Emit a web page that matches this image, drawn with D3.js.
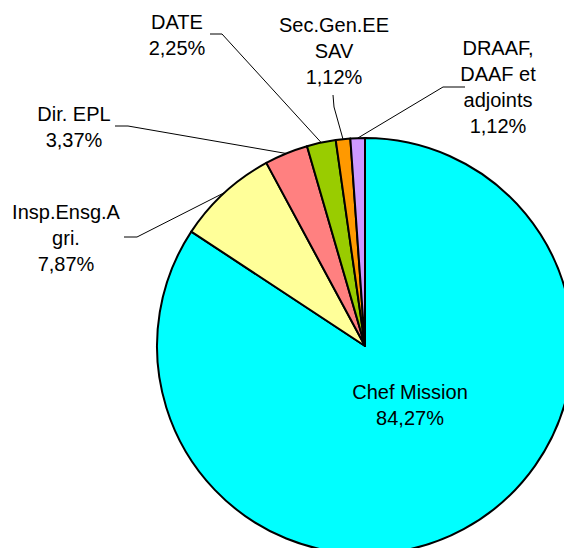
<!DOCTYPE html>
<html>
<head>
<meta charset="utf-8">
<script src="https://cdn.jsdelivr.net/npm/d3@7"></script>
<style>
html, body { margin: 0; padding: 0; background: #fff; overflow: hidden; }
svg { display: block; }
</style>
</head>
<body>
<script>
// ---- data ----
const categories = [
  ["Chef Mission"],
  ["Insp.Ensg.A", "gri."],
  ["Dir. EPL"],
  ["DATE"],
  ["Sec.Gen.EE", "SAV"],
  ["DRAAF,", "DAAF et", "adjoints"]
];
const values = [75, 7, 3, 2, 1, 1];
const colors = ["#00FFFF", "#FFFF99", "#FF8080", "#99CC00", "#FF9900", "#CC99FF"];

// ---- layout (label placement, not data) ----
const W = 564, H = 548;
const cx = 365, cy = 346, R = 208;
const lineH = 26;
const labelLayout = [
  { x: 410, y: 399, leader: null },
  { x: 66, y: 219, leader: [[124, 237], [137, 237]] },
  { x: 74, y: 121, leader: [[115, 126], [128, 126]] },
  { x: 177, y: 29, leader: [[210, 34], [222, 34]] },
  { x: 334, y: 32, leader: [[333, 95], [334, 107]] },
  { x: 498, y: 55, leader: [[465, 87], [443, 87]] }
];

const total = d3.sum(values);
const fmtPct = v => (v / total * 100).toFixed(2).replace(".", ",") + "%";

const svg = d3.select("body").append("svg")
  .attr("width", W).attr("height", H);

const pie = d3.pie().sort(null).value(d => d);
const arcs = pie(values);
const arc = d3.arc().innerRadius(0).outerRadius(R);
const edgeArc = d3.arc().innerRadius(R).outerRadius(R);

const g = svg.append("g").attr("transform", `translate(${cx},${cy})`);

g.selectAll("path.slice")
  .data(arcs)
  .join("path")
  .attr("class", "slice")
  .attr("d", arc)
  .attr("fill", (d, i) => colors[i])
  .attr("stroke", "#000")
  .attr("stroke-width", 2)
  .attr("stroke-linejoin", "round");

// leader lines
const line = d3.line();
arcs.forEach((d, i) => {
  const L = labelLayout[i];
  if (!L.leader) return;
  const c = edgeArc.centroid(d);
  const pts = L.leader.concat([[c[0] + cx, c[1] + cy]]);
  svg.append("path")
    .attr("d", line(pts))
    .attr("fill", "none")
    .attr("stroke", "#000")
    .attr("stroke-width", 1);
});

// labels
arcs.forEach((d, i) => {
  const L = labelLayout[i];
  const lines = categories[i].concat([fmtPct(values[i])]);
  const t = svg.append("text")
    .attr("x", L.x).attr("y", L.y)
    .attr("text-anchor", "middle")
    .attr("font-family", "'Liberation Sans', Arial, sans-serif")
    .attr("font-size", 20)
    .attr("fill", "#000");
  lines.forEach((s, k) => {
    t.append("tspan").attr("x", L.x).attr("y", L.y + k * lineH).text(s);
  });
});
</script>
</body>
</html>
